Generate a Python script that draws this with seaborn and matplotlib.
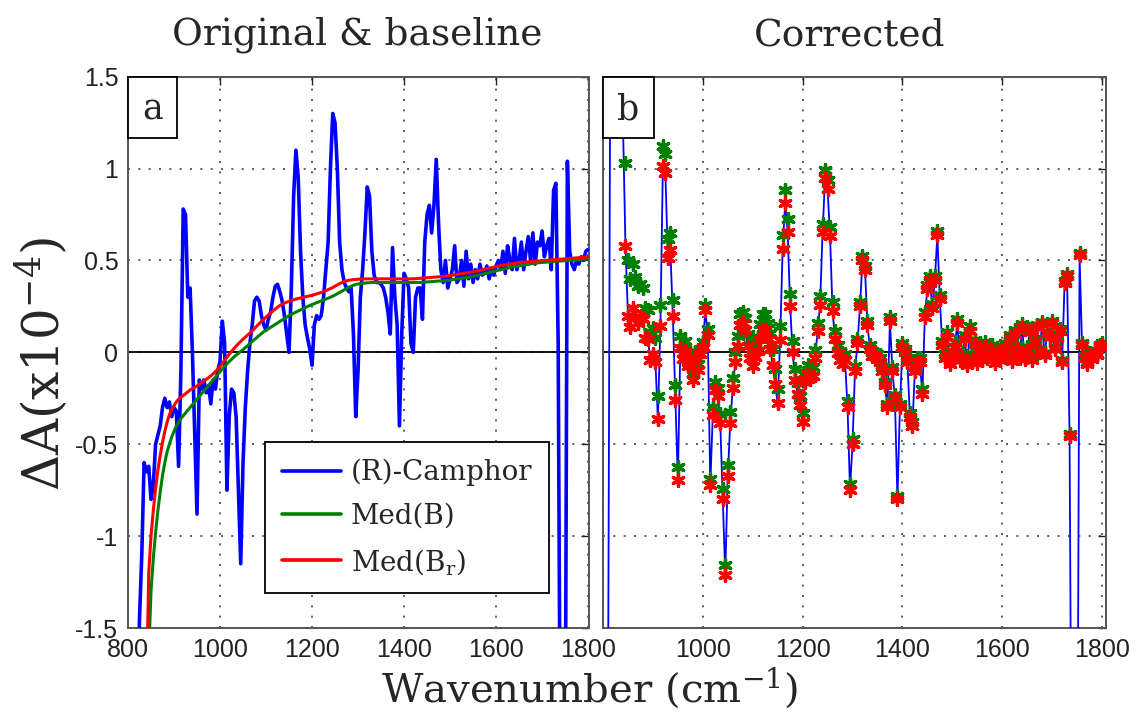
import numpy as np
import matplotlib
matplotlib.use("Agg")
import matplotlib.pyplot as plt
import seaborn as sns
from matplotlib.patches import Rectangle

# ---------------- data ----------------
wavenumber = np.arange(810, 1801, 5)

camphor = [
    -8.0, -3.0, -2.0, -1.45, -1.1, -0.6, -0.65, -0.62, -0.8, -0.72,
    -0.5, -0.45, -0.4, -0.3, -0.25, -0.3, -0.27, -0.35, -0.3, -0.32,
    -0.62, -0.1, 0.78, 0.75, 0.3, 0.35, 0.0, -0.45, -0.88, -0.15,
    -0.2, -0.15, -0.22, -0.18, -0.28, -0.15, -0.2, -0.1, -0.05, 0.17,
    0.05, -0.75, -0.35, -0.2, -0.22, -0.35, -0.75, -1.15, -0.6, -0.3,
    -0.1, 0.05, 0.15, 0.28, 0.3, 0.28, 0.2, 0.15, 0.12, 0.18,
    0.22, 0.3, 0.36, 0.37, 0.33, 0.28, 0.2, 0.1, 0.0, 0.35,
    0.85, 1.1, 0.95, 0.55, 0.3, 0.15, 0.08, 0.02, -0.07, 0.15,
    0.2, 0.18, 0.2, 0.3, 0.45, 0.6, 1.0, 1.3, 1.25, 1.0,
    0.6, 0.45, 0.38, 0.35, 0.33, 0.35, 0.1, -0.35, -0.1, 0.3,
    0.45, 0.65, 0.9, 0.85, 0.55, 0.42, 0.38, 0.38, 0.37, 0.35,
    0.3, 0.22, 0.1, 0.57, 0.3, 0.15, -0.4, 0.1, 0.43, 0.4,
    0.35, 0.05, 0.0, 0.3, 0.35, 0.35, 0.18, 0.6, 0.75, 0.8,
    0.65, 0.8, 1.05, 0.7, 0.45, 0.38, 0.5, 0.35, 0.4, 0.45,
    0.58, 0.38, 0.4, 0.5, 0.36, 0.55, 0.4, 0.48, 0.38, 0.45,
    0.4, 0.48, 0.42, 0.43, 0.47, 0.4, 0.45, 0.42, 0.47, 0.5,
    0.45, 0.55, 0.43, 0.58, 0.5, 0.45, 0.62, 0.45, 0.5, 0.6,
    0.45, 0.55, 0.63, 0.5, 0.65, 0.48, 0.6, 0.58, 0.66, 0.52,
    0.58, 0.62, 0.45, 0.88, 0.92, 0.05, -2.5, -2.5, -2.5, 1.04,
    0.55, 0.48, 0.45, 0.5, 0.48, 0.52, 0.5, 0.55, 0.56,
]

med_b = [
    -6.4, -5.4, -4.6, -3.9, -3.2, -2.6, -2.2, -1.65, -1.3, -1.12,
    -0.98, -0.86, -0.76, -0.67, -0.6, -0.54, -0.5, -0.46, -0.43, -0.4,
    -0.38, -0.36, -0.345, -0.33, -0.315, -0.3, -0.285, -0.27, -0.255, -0.24,
    -0.225, -0.21, -0.195, -0.18, -0.165, -0.15, -0.135, -0.12, -0.105, -0.09,
    -0.076, -0.063, -0.05, -0.038, -0.026, -0.015, -0.005, 0.005, 0.015, 0.026,
    0.037, 0.048, 0.059, 0.07, 0.081, 0.092, 0.102, 0.112, 0.12, 0.128,
    0.136, 0.144, 0.152, 0.16, 0.168, 0.176, 0.184, 0.192, 0.199, 0.206,
    0.213, 0.219, 0.225, 0.231, 0.237, 0.243, 0.249, 0.255, 0.26, 0.265,
    0.27, 0.275, 0.28, 0.285, 0.29, 0.295, 0.3, 0.306, 0.312, 0.319,
    0.326, 0.333, 0.34, 0.347, 0.354, 0.36, 0.365, 0.369, 0.372, 0.374,
    0.376, 0.377, 0.378, 0.379, 0.38, 0.38, 0.38, 0.38, 0.38, 0.38,
    0.38, 0.38, 0.38, 0.38, 0.38, 0.38, 0.38, 0.38, 0.38, 0.38,
    0.38, 0.38, 0.38, 0.38, 0.38, 0.38, 0.381, 0.382, 0.383, 0.384,
    0.385, 0.386, 0.387, 0.388, 0.389, 0.39, 0.391, 0.392, 0.393, 0.395,
    0.397, 0.399, 0.401, 0.403, 0.405, 0.407, 0.409, 0.411, 0.414, 0.417,
    0.42, 0.423, 0.426, 0.429, 0.432, 0.435, 0.438, 0.441, 0.444, 0.447,
    0.45, 0.453, 0.456, 0.459, 0.462, 0.465, 0.467, 0.469, 0.471, 0.473,
    0.475, 0.477, 0.479, 0.481, 0.483, 0.485, 0.487, 0.488, 0.489, 0.49,
    0.491, 0.492, 0.493, 0.494, 0.495, 0.496, 0.497, 0.498, 0.499, 0.5,
    0.501, 0.502, 0.503, 0.504, 0.505, 0.506, 0.507, 0.508, 0.509,
]

med_br = [
    -6.0, -5.0, -4.2, -3.5, -2.8, -2.2, -1.9, -1.2, -1.0, -0.86,
    -0.74, -0.64, -0.56, -0.49, -0.43, -0.38, -0.34, -0.31, -0.29, -0.27,
    -0.255, -0.245, -0.235, -0.225, -0.215, -0.205, -0.197, -0.19, -0.183, -0.176,
    -0.165, -0.156, -0.147, -0.138, -0.128, -0.117, -0.105, -0.092, -0.077, -0.06,
    -0.043, -0.026, -0.01, 0.005, 0.02, 0.034, 0.047, 0.06, 0.072, 0.083,
    0.094, 0.105, 0.117, 0.13, 0.143, 0.156, 0.168, 0.18, 0.192, 0.203,
    0.214, 0.225, 0.236, 0.246, 0.255, 0.262, 0.268, 0.273, 0.278, 0.282,
    0.286, 0.29, 0.293, 0.296, 0.299, 0.302, 0.305, 0.308, 0.311, 0.314,
    0.318, 0.322, 0.326, 0.331, 0.336, 0.341, 0.347, 0.353, 0.36, 0.367,
    0.374, 0.38, 0.385, 0.389, 0.392, 0.394, 0.396, 0.397, 0.398, 0.399,
    0.4, 0.4, 0.4, 0.4, 0.4, 0.4, 0.4, 0.4, 0.4, 0.4,
    0.4, 0.4, 0.4, 0.4, 0.4, 0.4, 0.4, 0.4, 0.4, 0.4,
    0.4, 0.4, 0.4, 0.401, 0.402, 0.403, 0.404, 0.405, 0.406, 0.407,
    0.408, 0.409, 0.41, 0.411, 0.412, 0.413, 0.414, 0.416, 0.418, 0.42,
    0.422, 0.424, 0.426, 0.428, 0.43, 0.432, 0.434, 0.436, 0.438, 0.44,
    0.443, 0.446, 0.449, 0.452, 0.455, 0.458, 0.461, 0.464, 0.467, 0.47,
    0.472, 0.474, 0.476, 0.478, 0.48, 0.482, 0.484, 0.486, 0.488, 0.49,
    0.491, 0.492, 0.493, 0.494, 0.495, 0.496, 0.497, 0.498, 0.499, 0.5,
    0.501, 0.502, 0.503, 0.504, 0.505, 0.506, 0.507, 0.508, 0.509, 0.51,
    0.511, 0.512, 0.513, 0.514, 0.515, 0.516, 0.517, 0.518, 0.519,
]

panel_titles = ["Original & baseline", "Corrected"]
panel_tags = ["a", "b"]
legend_labels = ["(R)-Camphor", "Med(B)", r"Med(B$_{\mathrm{r}}$)"]
xtick_values = [800, 1000, 1200, 1400, 1600, 1800]
ytick_values = [-1.5, -1, -0.5, 0, 0.5, 1, 1.5]
ytick_labels = ["-1.5", "-1", "-0.5", "0", "0.5", "1", "1.5"]
x_label = "Wavenumber (cm$^{\\mathrm{-1}}$)"
y_label = "\u0394A(x10$^{\\mathrm{-4}}$)"

# ---------------- style ----------------
sns.set_theme(style="white")
plt.rcParams["font.family"] = ["DejaVu Serif"]
plt.rcParams["mathtext.fontset"] = "custom"
plt.rcParams["mathtext.rm"] = "DejaVu Serif"
plt.rcParams["mathtext.it"] = "DejaVu Serif"

BLUE, GREEN, RED = "#0000ff", "#008000", "#ff0000"
W, H = 1141, 713
TICK_FONT = "Liberation Sans"

fig = plt.figure(figsize=(W / 100, H / 100), dpi=100)
fig.patch.set_facecolor("white")
ax1 = fig.add_axes([128 / W, (H - 628) / H, 461 / W, 551.3 / H])
ax2 = fig.add_axes([603 / W, (H - 628) / H, 503 / W, 551.3 / H])

df = {"wn": wavenumber, "camphor": np.array(camphor),
      "med_b": np.array(med_b), "med_br": np.array(med_br)}
corr_b = df["camphor"] - df["med_b"]
corr_br = df["camphor"] - df["med_br"]

# panel a
sns.lineplot(x=df["wn"], y=df["camphor"], ax=ax1, color=BLUE, lw=2.6,
             sort=False, estimator=None, label=legend_labels[0], zorder=3)
sns.lineplot(x=df["wn"], y=df["med_b"], ax=ax1, color=GREEN, lw=2.2,
             sort=False, estimator=None, label=legend_labels[1], zorder=4)
sns.lineplot(x=df["wn"], y=df["med_br"], ax=ax1, color=RED, lw=2.2,
             sort=False, estimator=None, label=legend_labels[2], zorder=5)

# panel b
sns.lineplot(x=df["wn"], y=corr_br, ax=ax2, color=BLUE, lw=1.3,
             sort=False, estimator=None, zorder=3)
sns.scatterplot(x=df["wn"], y=corr_b, ax=ax2, color=GREEN, marker=(6, 2, 0),
                s=72, linewidth=2.4, zorder=4)
sns.scatterplot(x=df["wn"], y=corr_br, ax=ax2, color=RED, marker=(6, 2, 0),
                s=72, linewidth=2.4, zorder=5)

dotted = (0, (1.2, 5))
for i, ax in enumerate([ax1, ax2]):
    ax.set_ylim(-1.5, 1.5)
    ax.set_yticks(ytick_values)
    ax.set_xticks(xtick_values)
    ax.grid(True, linestyle=dotted, color="#444444", lw=1.2)
    ax.axhline(0, color="black", lw=1.3, zorder=2)
    ax.tick_params(direction="in", length=6, width=1.0, top=True, right=True,
                   colors="#222222", labelsize=18, pad=7)
    for sp in ax.spines.values():
        sp.set_color("#555555")
        sp.set_linewidth(1.4)
    ax.set_xlabel("")
    ax.set_ylabel("")
    # tag box
    bw = 49 / 461 if i == 0 else 51 / 503
    bh = 61 / 551.3
    ax.add_patch(Rectangle((0, 1 - bh), bw, bh, transform=ax.transAxes,
                           facecolor="white", edgecolor="black", lw=1.3,
                           zorder=10, clip_on=False))
    ax.text(bw / 2, 1 - bh / 2 - 0.004, panel_tags[i], transform=ax.transAxes,
            ha="center", va="center", fontsize=25, zorder=11,
            family="DejaVu Serif")

ax1.set_xlim(800, 1802)
ax2.set_xlim(800, 1808)
ax1.set_yticklabels(ytick_labels)
ax2.set_yticklabels([])
ax2.set_xticklabels([""] + [str(v) for v in xtick_values[1:]])
for lab in ax1.get_xticklabels() + ax1.get_yticklabels() + ax2.get_xticklabels():
    lab.set_fontfamily(TICK_FONT)

leg = ax1.legend(loc="lower left", bbox_to_anchor=(0.297, 0.063),
                 fontsize=20, handlelength=2.15, handletextpad=0.35,
                 labelspacing=0.6, borderpad=0.6, borderaxespad=0,
                 frameon=True, fancybox=False, framealpha=1)
leg.get_frame().set_edgecolor("black")
leg.get_frame().set_linewidth(1.3)
for line in leg.get_lines():
    line.set_linewidth(2.6)

fig.text(357 / W, 1 - 35 / H, panel_titles[0], ha="center", va="center",
         fontsize=27)
fig.text(850 / W, 1 - 35 / H, panel_titles[1], ha="center", va="center",
         fontsize=27)
fig.text(590 / W, 1 - 688 / H, x_label, ha="center", va="center", fontsize=29)
fig.text(42 / W, 1 - 364 / H, y_label, ha="center", va="center", fontsize=36,
         rotation=90)

fig.savefig("out.png", dpi=100, facecolor="white")
